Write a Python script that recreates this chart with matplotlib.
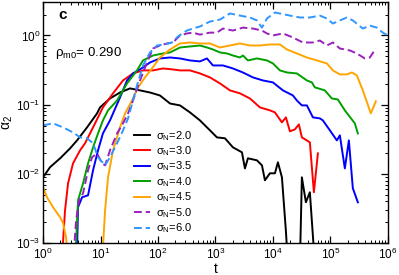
import numpy as np
import matplotlib
matplotlib.use("Agg")
import matplotlib.pyplot as plt
from matplotlib.ticker import LogLocator, NullFormatter

plt.rcParams['font.family'] = ['Liberation Sans', 'DejaVu Sans']
plt.rcParams['mathtext.default'] = 'regular'

LOW = 5e-4  # values that drop below the lower axis limit

# sigma_N = 2.0
t_20 = [1.0, 1.32, 1.98, 2.95, 3.90, 5.82, 8.69, 9.80, 14.6, 21.8, 32.6, 48.6, 72.6, 108,
        162, 241, 360, 537, 802, 1062, 1462, 2014, 2890, 3260, 3672, 5272, 6442, 7262,
        8870, 10840, 12210, 14350, 16830, 18240, 29510, 31920, 37500, 43950, 53700]
a_20 = [0.00893, 0.0125, 0.0168, 0.0234, 0.0305, 0.0470, 0.0749, 0.0914, 0.123, 0.150,
        0.172, 0.161, 0.150, 0.136, 0.104, 0.0977, 0.0774, 0.0593, 0.0426, 0.0337, 0.0327,
        0.0242, 0.0205, 0.0120, 0.0168, 0.0157, 0.0133, 0.00809, 0.0102, 0.0102, 0.0147,
        0.00893, 0.00149, LOW, LOW, 0.00893, 0.00389, 0.00543, LOW]

# sigma_N = 3.0
t_30 = [2.1, 2.41, 2.72, 3.32, 4.40, 5.37, 6.56, 8.02, 11.0, 16.5, 24.6, 36.7, 54.8, 81.9,
        122, 182, 241, 360, 537, 802, 1197, 1786, 2667, 3981, 5943, 8870, 10840, 14350,
        16830, 19770, 24150, 28310, 31920, 43950, 51640, 60670]
a_30 = [LOW, 0.00298, 0.00732, 0.0142, 0.0219, 0.0277, 0.0385, 0.0537, 0.0914, 0.146,
        0.224, 0.283, 0.313, 0.313, 0.334, 0.323, 0.313, 0.313, 0.283, 0.248, 0.203, 0.161,
        0.146, 0.123, 0.0914, 0.0828, 0.0774, 0.0555, 0.0656, 0.0412, 0.0440, 0.0520,
        0.0337, 0.0286, 0.00543, 0.0198]

# sigma_N = 3.5
t_35 = [3.85, 4.06, 4.77, 6.06, 7.41, 9.04, 11.0, 14.6, 21.8, 28.9, 36.7, 54.8, 72.6, 108,
        162, 241, 360, 537, 711, 905, 1349, 2014, 3008, 4487, 6699, 10000, 14930, 22280,
        26120, 31920, 39000, 49650, 65620, 74130, 98000, 129700, 146200, 178600, 209900,
        246000, 300600]
a_35 = [LOW, 0.00330, 0.00459, 0.00491, 0.0113, 0.0219, 0.0385, 0.0593, 0.127, 0.224, 0.283,
        0.345, 0.408, 0.466, 0.481, 0.466, 0.436, 0.422, 0.466, 0.369, 0.369, 0.334, 0.292,
        0.248, 0.224, 0.210, 0.161, 0.136, 0.115, 0.0977, 0.0977, 0.0656, 0.0634, 0.0593,
        0.0426, 0.0305, 0.0361, 0.0120, 0.0305, 0.00620, 0.00389]

# sigma_N = 4.0
t_40 = [3.6, 4.06, 4.96, 6.06, 7.41, 9.04, 11.0, 13.5, 19.4, 28.9, 43.1, 54.8, 81.9, 122, 162,
        241, 360, 537, 711, 905, 1197, 1585, 2014, 2667, 3008, 3672, 5272, 7871, 10000,
        13240, 17510, 26120, 39000, 47640, 53700, 80170, 106200, 134900, 178600, 266700,
        300600]
a_40 = [LOW, 0.00416, 0.00732, 0.0142, 0.0242, 0.0385, 0.0593, 0.0828, 0.115, 0.203, 0.313,
        0.436, 0.514, 0.550, 0.569, 0.671, 0.694, 0.717, 0.671, 0.628, 0.569, 0.550, 0.514,
        0.481, 0.514, 0.436, 0.466, 0.436, 0.395, 0.313, 0.292, 0.283, 0.224, 0.210, 0.178,
        0.161, 0.123, 0.119, 0.0828, 0.0537, 0.0385]

# sigma_N = 4.5
t_45 = [1.0, 1.17, 1.49, 1.98, 2.23, 2.51, 2.72, 10.6, 12.0, 13.5, 16.5, 21.8, 26.7, 35.3,
        44.9, 59.4, 78.7, 108, 162, 241, 360, 537, 802, 1197, 1786, 2667, 3981, 5943, 8870,
        13240, 17510, 26120, 39000, 58210, 86900, 110400, 146200, 193600, 236600, 289000,
        367200, 505800, 618000]
a_45 = [0.00641, 0.00459, 0.00330, 0.00236, 0.00194, 0.00122, LOW, LOW, 0.00298, 0.00893,
        0.0219, 0.0470, 0.0749, 0.115, 0.178, 0.248, 0.334, 0.481, 0.628, 0.767, 0.792,
        0.767, 0.767, 0.671, 0.717, 0.767, 0.717, 0.717, 0.742, 0.742, 0.628, 0.550, 0.481,
        0.436, 0.395, 0.313, 0.274, 0.274, 0.292, 0.265, 0.161, 0.0749, 0.112]

# sigma_N = 5.0
t_50 = [3.32, 3.75, 4.23, 4.96, 6.06, 7.11, 8.69, 10.6, 12.0, 14.6, 19.4, 24.6, 30.1, 36.7,
        48.6, 64.4, 81.9, 108, 143, 182, 241, 319, 406, 537, 802, 1062, 1349, 2014, 3008,
        4487, 6442, 7871, 10000, 14930, 22280, 33270, 49650, 65620, 86900, 110400, 146200,
        218300, 289000, 398100, 486400, 618000]
a_50 = [LOW, 0.00214, 0.00416, 0.00525, 0.0113, 0.0174, 0.0198, 0.0142, 0.0133, 0.0219,
        0.0385, 0.0537, 0.0749, 0.115, 0.224, 0.408, 0.649, 0.717, 0.767, 0.792, 1.0, 1.07,
        1.10, 1.03, 1.10, 1.10, 1.26, 1.18, 1.30, 1.26, 1.18, 1.07, 1.0, 1.07, 0.936, 0.792,
        0.792, 0.847, 0.717, 0.792, 0.649, 0.608, 0.550, 0.466, 0.481, 0.649]

# sigma_N = 6.0
t_60 = [1.0, 1.49, 2.23, 3.32, 4.40, 5.82, 7.41, 9.04, 12.0, 14.6, 19.4, 24.6, 30.1, 36.7,
        43.1, 54.8, 72.6, 96.1, 132, 175, 222, 319, 406, 537, 802, 1197, 1786, 2667, 3981,
        5272, 6442, 7871, 10840, 13240, 19770, 29510, 43950, 65620, 86900, 110400, 146200,
        193600, 246000, 367200, 486400, 643700, 818400, 1e6]
a_60 = [0.0503, 0.0537, 0.0470, 0.0398, 0.0337, 0.0327, 0.0277, 0.0174, 0.0133, 0.0174,
        0.0277, 0.0426, 0.0634, 0.115, 0.190, 0.369, 0.569, 0.717, 0.742, 0.792, 0.967, 1.18,
        1.26, 1.35, 1.59, 1.70, 2.08, 1.94, 1.82, 1.65, 1.30, 1.76, 2.15, 2.08, 1.94, 1.82,
        1.82, 1.94, 1.76, 1.49, 1.65, 1.82, 1.65, 1.26, 1.39, 1.30, 1.10, 1.0]

labels = ['2.0', '3.0', '3.5', '4.0', '4.5', '5.0', '6.0']
series = [(t_20, a_20), (t_30, a_30), (t_35, a_35), (t_40, a_40),
          (t_45, a_45), (t_50, a_50), (t_60, a_60)]
colors = ['black', '#ff0000', '#0000ff', '#00a000', '#ffa500', '#9a1fbf', '#2f96ff']
styles = ['-', '-', '-', '-', '-', (0, (4, 2)), (0, (4, 2))]

fig = plt.figure(figsize=(3.99, 2.75), dpi=100)
ax = fig.add_axes([0.108, 0.116, 0.864, 0.875])

for (t, a), lab, c, ls in zip(series, labels, colors, styles):
    ax.plot(t, a, color=c, ls=ls, lw=1.4, label=r'$\sigma_N$=' + lab)

ax.set_xscale('log')
ax.set_yscale('log')
ax.set_xlim(1, 1e6)
ax.set_ylim(1e-3, 3)

ax.xaxis.set_major_locator(LogLocator(base=10, numticks=10))
ax.xaxis.set_minor_locator(LogLocator(base=10, subs=np.arange(2, 10), numticks=20))
ax.yaxis.set_minor_locator(LogLocator(base=10, subs=np.arange(2, 10), numticks=20))
ax.xaxis.set_minor_formatter(NullFormatter())
ax.yaxis.set_minor_formatter(NullFormatter())
ax.tick_params(which='both', direction='in', top=True, right=True, labelsize=8.5)
ax.tick_params(axis='y', which='major', pad=2)
ax.tick_params(axis='x', which='major', pad=3)
ax.tick_params(which='major', length=5, width=0.9)
ax.tick_params(which='minor', length=2.5, width=0.7)
for s in ax.spines.values():
    s.set_linewidth(1.0)

ax.set_xlabel('t', fontsize=10, labelpad=0)
ax.set_ylabel(r'$\alpha_2$', fontsize=10, labelpad=1)

ax.text(0.045, 0.948, 'c', transform=ax.transAxes, fontsize=11, fontweight='bold',
        va='center', ha='left')
ax.text(0.035, 0.79, r'$\rho_{m0}$= 0.290', transform=ax.transAxes, fontsize=9.5,
        va='center', ha='left')

ax.legend(loc='lower left', bbox_to_anchor=(0.24, 0.0), frameon=False, fontsize=8,
          handlelength=1.5, handletextpad=0.5, labelspacing=0.15, borderaxespad=0.3)

fig.savefig('out.png', dpi=100)
